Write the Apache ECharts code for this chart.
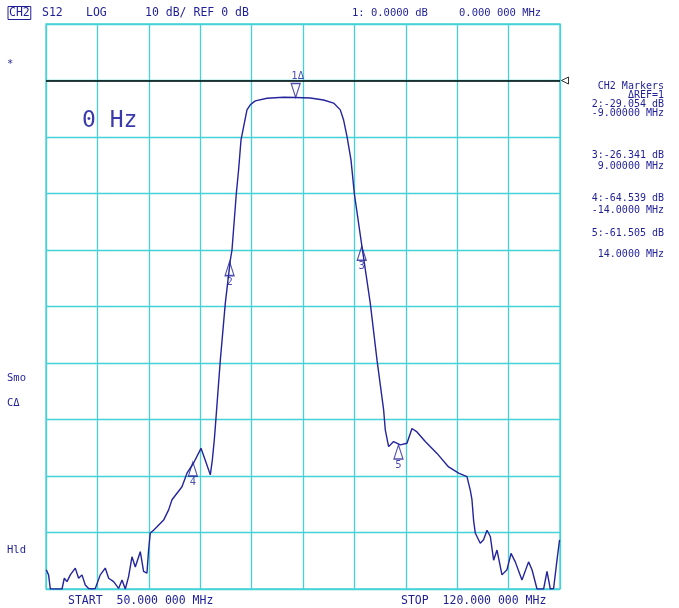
<!DOCTYPE html>
<html><head><meta charset="utf-8">
<script src="https://cdn.jsdelivr.net/npm/echarts@6/dist/echarts.min.js"></script>
<style>html,body{margin:0;padding:0;background:#fff}#c{width:679px;height:608px}</style>
</head><body><div id="c"></div>
<script>
// ---- data (frequency in MHz, S12 in dB) ----
const freqMHz = [50.04,50.35,50.59,51.5,52.18,52.49,52.86,53.31,53.99,54.44,54.90,55.35,55.80,56.26,56.71,57.39,58.07,58.53,59.21,59.89,60.35,60.80,61.25,61.71,62.16,62.84,63.29,63.75,63.97,64.20,64.65,65.12,66.02,66.70,67.16,67.38,68.52,69.20,70.10,71.11,71.69,72.38,72.65,72.92,73.06,73.74,74.42,75.10,75.33,75.92,76.23,76.56,76.91,77.37,77.82,78.50,80.10,82.36,84.0,85.99,87.80,89.17,90.08,90.53,90.99,91.54,91.99,93.03,94.16,95.08,95.98,96.21,96.66,97.34,98.25,99.16,99.84,100.52,101.65,103.25,104.83,106.19,107.33,107.78,108.01,108.23,108.46,109.14,109.59,110.06,110.51,110.96,111.42,112.10,112.78,113.33,113.91,114.82,115.72,116.19,116.87,117.77,118.23,118.68,119.13,119.59,119.94];
const s12dB = [-86.6,-87.5,-90,-90,-90,-88.1,-88.7,-87.5,-86.3,-88.1,-87.5,-89.3,-89.9,-90,-89.9,-87.5,-86.3,-88.1,-88.7,-89.9,-88.4,-90,-87.8,-84.3,-86.1,-83.4,-86.9,-87.2,-83.1,-80.1,-79.6,-79.0,-77.8,-76.0,-74.2,-73.9,-71.9,-69.5,-67.7,-65.1,-67.2,-69.8,-67.2,-63.6,-61.3,-49.5,-39.4,-31.8,-30.0,-20.0,-15.8,-10.5,-8.2,-5.2,-4.3,-3.6,-3.15,-2.97,-3.0,-3.1,-3.45,-4.0,-5.2,-7.0,-9.9,-14.1,-20.0,-29.4,-39.4,-49.5,-58.3,-61.9,-64.8,-63.9,-64.5,-64.2,-61.6,-62.2,-63.9,-66.0,-68.4,-69.5,-70.1,-72.5,-74.2,-77.8,-80.1,-81.9,-81.3,-79.6,-80.7,-84.9,-83.1,-87.5,-86.6,-83.7,-85.2,-88.4,-85.2,-86.6,-90,-90,-86.9,-90,-89.9,-84.9,-81.3];
const startMHz = 50, stopMHz = 120;
const refDb = 0, dbPerDiv = 10, yMinDb = -90, yMaxDb = 10;
const xDivisions = 10;
const refFreqMHz = 84, refLevelDb = -3.0;
const markerIds = ['1','2','3','4','5'];
const markerOffsetMHz = [0,-9,9,-14,14];
const markerDeltaDb = [0,-29.054,-26.341,-64.539,-61.505];
const headerTexts = ['S12','LOG','10 dB/ REF 0 dB','1: 0.0000 dB','0.000 000 MHz'];
const panelTexts = ['CH2 Markers','ΔREF=1','2:-29.054 dB','-9.00000 MHz','3:-26.341 dB','9.00000 MHz','4:-64.539 dB','-14.0000 MHz','5:-61.505 dB','14.0000 MHz'];
const sideTexts = ['*','Smo','CΔ','Hld'];
const footerTexts = ['START  50.000 000 MHz','STOP  120.000 000 MHz'];

// ---- styles ----
const FONT = '"DejaVu Sans Mono", "Liberation Mono", monospace';
const TXT = '#1f1f96';
const TRACE = '#24249c';
const CYAN = '#44d2d8';

const trace = freqMHz.map((f, i) => [f, s12dB[i]]);
const markers = markerIds.map((id, i) => ({
  id, value: [refFreqMHz + markerOffsetMHz[i], refLevelDb + markerDeltaDb[i]]
}));

function t(text, x, y, opts) {
  return Object.assign({ type: 'text', x, y, silent: true,
    style: Object.assign({ text, fill: TXT, font: '11.5px ' + FONT, textVerticalAlign: 'middle' }, opts || {}) });
}
const g = [];
g.push({ type: 'text', x: 8, y: 13, silent: true,
  style: { text: 'CH2', fill: TXT, font: '11.5px ' + FONT, textVerticalAlign: 'middle',
    borderColor: TXT, borderWidth: 1, padding: [1, 1, 0, 1] } });
const hx = [42, 86, 145, 352, 459];
const hs = [11.5, 11.5, 11.5, 10.5, 10.5];
headerTexts.forEach((s, i) => g.push(t(s, hx[i], 13, { font: hs[i] + 'px ' + FONT })));
const py = [86, 95, 104, 113, 155, 166, 198, 210, 233, 254];
panelTexts.forEach((s, i) => g.push(t(s, 664, py[i], { textAlign: 'right', font: '10px ' + FONT })));
const sy = [64, 378, 403, 550];
sideTexts.forEach((s, i) => g.push(t(s, 7, sy[i], { font: '10.5px ' + FONT })));
g.push(t(footerTexts[0], 68, 601));
g.push(t(footerTexts[1], 401, 601));
g.push(t('0 Hz', 82, 121, { font: '23px ' + FONT, fill: '#3a3aac' }));

const chart = echarts.init(document.getElementById('c'), null, { renderer: 'canvas' });
chart.setOption({
  animation: false,
  backgroundColor: '#fff',
  grid: { left: 46, right: 119, top: 24, bottom: 19, show: true, borderColor: CYAN, borderWidth: 1.3 },
  xAxis: [
    { type: 'value', min: startMHz, max: stopMHz, show: false },
    { type: 'value', min: 0, max: xDivisions, interval: 1, position: 'bottom',
      axisLine: { show: false }, axisTick: { show: false }, axisLabel: { show: false },
      splitLine: { show: true, lineStyle: { color: CYAN, width: 1.3 } } }
  ],
  yAxis: [{ type: 'value', min: yMinDb, max: yMaxDb, interval: dbPerDiv,
    axisLine: { show: false }, axisTick: { show: false }, axisLabel: { show: false },
    splitLine: { show: true, lineStyle: { color: CYAN, width: 1.3 } } }],
  graphic: g,
  series: [
    { type: 'line', xAxisIndex: 0, yAxisIndex: 0, data: trace, showSymbol: false, symbol: 'none',
      lineStyle: { color: TRACE, width: 1.4 }, z: 3,
      markLine: { silent: true, symbol: ['none', 'none'], label: { show: false },
        lineStyle: { color: '#000', width: 1.5, type: 'solid' }, data: [{ yAxis: refDb }] } },
    { type: 'scatter', xAxisIndex: 0, yAxisIndex: 0, z: 4, clip: false,
      data: markers.slice(1).map(m => ({ value: m.value, name: m.id })),
      symbol: 'path://M5,0 L10,16 L0,16 Z', symbolSize: [9, 14], symbolOffset: [0, 7],
      itemStyle: { color: 'rgba(0,0,0,0)', borderColor: TRACE, borderWidth: 1.3 },
      label: { show: true, position: 'bottom', distance: 0, formatter: p => p.name,
        color: TXT, fontFamily: FONT, fontSize: 10.5 } },
    { type: 'scatter', xAxisIndex: 0, yAxisIndex: 0, z: 4, clip: false,
      data: [{ value: markers[0].value, name: markers[0].id }],
      symbol: 'path://M0,0 L10,0 L5,16 Z', symbolSize: [9, 14], symbolOffset: [0, -7],
      itemStyle: { color: 'rgba(0,0,0,0)', borderColor: TRACE, borderWidth: 1.3 },
      label: { show: true, position: 'top', distance: 1, offset: [2, 0], formatter: p => p.name + 'Δ',
        color: TXT, fontFamily: FONT, fontSize: 10.5 } },
    { type: 'scatter', xAxisIndex: 0, yAxisIndex: 0, z: 4, clip: false,
      data: [[stopMHz, refDb]],
      symbol: 'path://M0,5 L10,0 L10,10 Z', symbolSize: [7, 7], symbolOffset: [5, 0],
      itemStyle: { color: 'rgba(0,0,0,0)', borderColor: '#000', borderWidth: 1 } }
  ]
});
</script></body></html>
